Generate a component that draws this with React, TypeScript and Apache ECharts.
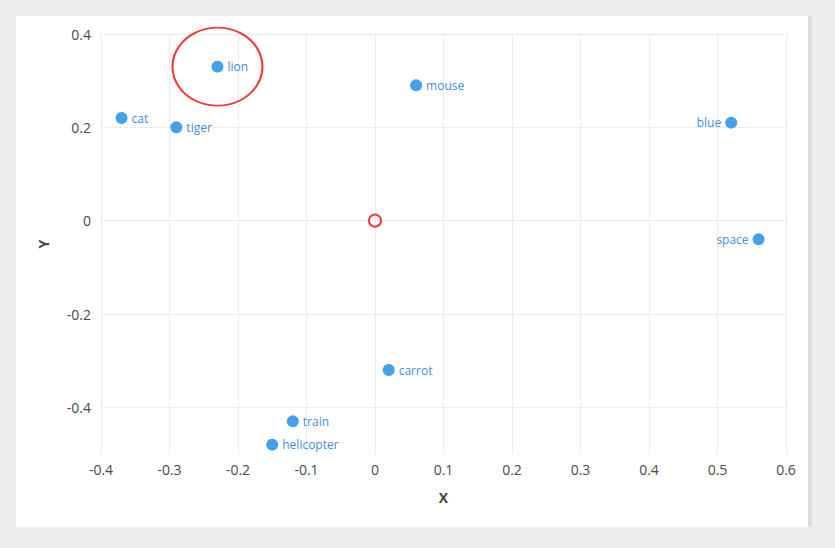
import React, { useEffect, useRef } from "react";
import * as echarts from "echarts";

const words = ["cat", "tiger", "lion", "mouse", "blue", "space", "carrot", "train", "helicopter"];
const xValues = [-0.37, -0.29, -0.23, 0.06, 0.52, 0.56, 0.02, -0.12, -0.15];
const yValues = [0.22, 0.2, 0.33, 0.29, 0.21, -0.04, -0.32, -0.43, -0.48];
const leftLabeled = ["blue", "space"];
const highlighted = "lion";
const origin = [0, 0];
const yTicks = [-0.4, -0.2, 0, 0.2, 0.4];
const xTicks = [-0.4, -0.3, -0.2, -0.1, 0, 0.1, 0.2, 0.3, 0.4, 0.5, 0.6];

const FONT = "'Open Sans', 'Noto Sans', sans-serif";
const DOT = "#45a2ea";
const LABEL = "#3f8fe2";
const RED = "#ee0a0a";
const GRID = "#ececec";

export default function App() {
  const ref = useRef<HTMLDivElement>(null);
  useEffect(() => {
    if (!ref.current) return;
    const chart = echarts.init(ref.current, null, { renderer: "svg" });
    const hi = words.indexOf(highlighted);
    chart.setOption({
      animation: false,
      textStyle: { fontFamily: FONT },
      grid: { left: 101, right: 49, top: 34, bottom: 94 },
      xAxis: {
        type: "value",
        min: -0.4,
        max: 0.6,
        interval: 0.1,
        name: "X",
        nameLocation: "middle",
        nameGap: 36,
        nameTextStyle: { fontWeight: "bold", fontSize: 14, color: "#444", fontFamily: FONT },
        axisLine: { show: true, lineStyle: { color: GRID } },
        axisTick: { show: true, length: 5, lineStyle: { color: GRID } },
        splitLine: { show: true, lineStyle: { color: GRID } },
        axisLabel: {
          color: "#4a4a4a",
          fontSize: 14,
          margin: 8,
          fontFamily: FONT,
          customValues: xTicks,
          formatter: (v: number) => String(Math.round(v * 10) / 10),
        },
      },
      yAxis: {
        type: "value",
        min: -0.5,
        max: 0.4,
        name: "Y",
        nameLocation: "middle",
        nameGap: 51,
        nameTextStyle: { fontWeight: "bold", fontSize: 14, color: "#444", fontFamily: FONT },
        axisLine: { show: true, lineStyle: { color: GRID } },
        axisTick: { show: true, length: 5, customValues: yTicks, lineStyle: { color: GRID } },
        splitLine: { show: true, lineStyle: { color: GRID } },
        axisLabel: {
          color: "#4a4a4a",
          fontSize: 14,
          margin: 10,
          fontFamily: FONT,
          customValues: yTicks,
          formatter: (v: number) => String(Math.round(v * 10) / 10),
        },
      },
      series: [
        {
          type: "scatter",
          symbol: "circle",
          symbolSize: 12,
          itemStyle: { color: DOT, opacity: 1 },
          label: {
            show: true,
            formatter: "{b}",
            color: LABEL,
            fontSize: 12,
            fontFamily: FONT,
            distance: 4,
          },
          data: words.map((w, i) => ({
            name: w,
            value: [xValues[i], yValues[i]],
            label: { position: leftLabeled.includes(w) ? "left" : "right" },
          })),
          z: 3,
        },
        {
          type: "scatter",
          symbol: "circle",
          symbolSize: 12,
          silent: true,
          itemStyle: { color: "rgba(255,255,255,0)", borderColor: RED, borderWidth: 2 },
          data: [origin],
          z: 4,
        },
        {
          type: "scatter",
          symbol: "circle",
          symbolSize: [90, 78],
          silent: true,
          itemStyle: { color: "rgba(255,255,255,0)", borderColor: RED, borderWidth: 2 },
          data: [[xValues[hi], yValues[hi]]],
          z: 5,
        },
      ],
    });
    return () => chart.dispose();
  }, []);

  return (
    <div style={{ position: "fixed", left: 0, top: 0, width: 835, height: 548, background: "#eeeeee" }}>
      <div
        style={{
          position: "absolute",
          left: 16,
          top: 16,
          width: 792,
          height: 511,
          background: "#ffffff",
          borderRight: "4px solid #dddddd",
        }}
      />
      <div ref={ref} style={{ position: "absolute", left: 0, top: 0, width: 835, height: 548 }} />
    </div>
  );
}
